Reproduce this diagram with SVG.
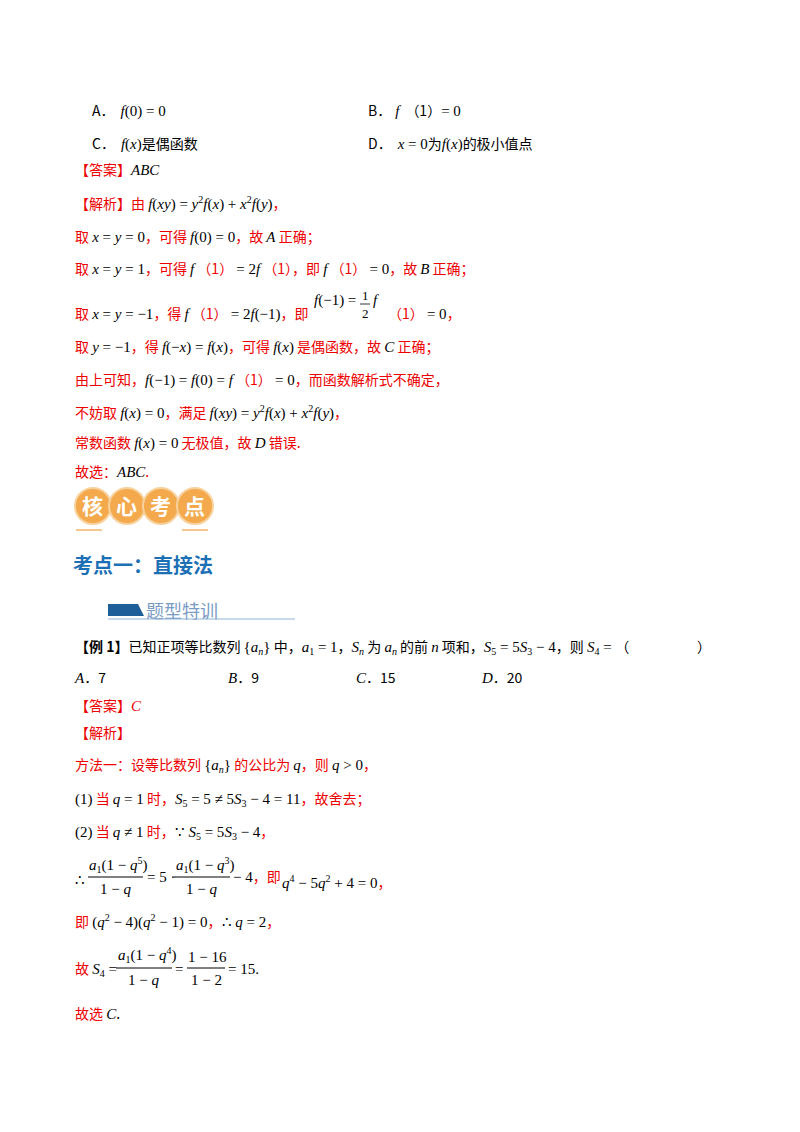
<svg xmlns="http://www.w3.org/2000/svg" width="800" height="1132" viewBox="0 0 800 1132">
<style>
text{font-family:"Noto Sans CJK SC","Liberation Serif",serif;font-size:14px;fill:#000}
.r{fill:#e00}
.m{font-family:"Liberation Serif",serif;font-style:italic;font-size:15px;fill:#000}
.n{font-family:"Liberation Serif",serif;font-size:15px;fill:#000}
.s{font-size:10px}
.k{font-family:"Noto Sans CJK SC",sans-serif;font-weight:bold;font-size:21px;fill:#fff}
.c{fill:#f3a94c;stroke:#f8d29e;stroke-width:2}
.h{font-family:"Noto Sans CJK SC",sans-serif;font-weight:bold;font-size:20px;fill:#1a6fb5}
.t{font-family:"Noto Sans CJK SC",serif;font-size:18px;fill:#7a9cc4}
</style>
<rect width="800" height="1132" fill="#fff"/>
<text x="92" y="116">A．<tspan class="m" dx="6">f</tspan><tspan class="n">(0) = 0</tspan></text>
<text x="368" y="116">B．<tspan class="m" dx="4">f</tspan><tspan dx="6">（1）</tspan><tspan class="n">= 0</tspan></text>
<text x="92" y="149">C．<tspan class="m" dx="6">f</tspan><tspan class="n">(</tspan><tspan class="m">x</tspan><tspan class="n">)</tspan>是偶函数</text>
<text x="368" y="149">D．<tspan class="m" dx="6">x</tspan><tspan class="n"> = 0</tspan>为<tspan class="m">f</tspan><tspan class="n">(</tspan><tspan class="m">x</tspan><tspan class="n">)</tspan>的极小值点</text>
<text x="75" y="175" class="r">【答案】<tspan class="m">ABC</tspan></text>
<text x="75" y="209" class="r">【解析】由 <tspan class="m">f</tspan><tspan class="n">(</tspan><tspan class="m">xy</tspan><tspan class="n">) = </tspan><tspan class="m">y</tspan><tspan class="n s" dy="-6">2</tspan><tspan class="m" dy="6">f</tspan><tspan class="n">(</tspan><tspan class="m">x</tspan><tspan class="n">) + </tspan><tspan class="m">x</tspan><tspan class="n s" dy="-6">2</tspan><tspan class="m" dy="6">f</tspan><tspan class="n">(</tspan><tspan class="m">y</tspan><tspan class="n">)</tspan>，</text>
<text x="75" y="242" class="r">取 <tspan class="m">x</tspan><tspan class="n"> = </tspan><tspan class="m">y</tspan><tspan class="n"> = 0</tspan>，可得 <tspan class="m">f</tspan><tspan class="n">(0) = 0</tspan>，故 <tspan class="m">A</tspan> 正确；</text>
<text x="75" y="274" class="r">取 <tspan class="m">x</tspan><tspan class="n"> = </tspan><tspan class="m">y</tspan><tspan class="n"> = 1</tspan>，可得 <tspan class="m">f</tspan> （1） <tspan class="n">= 2</tspan><tspan class="m">f</tspan> （1），即 <tspan class="m">f</tspan> （1） <tspan class="n">= 0</tspan>，故 <tspan class="m">B</tspan> 正确；</text>
<text x="75" y="319" class="r">取 <tspan class="m">x</tspan><tspan class="n"> = </tspan><tspan class="m">y</tspan><tspan class="n"> = −1</tspan>，得 <tspan class="m">f</tspan> （1） <tspan class="n">= 2</tspan><tspan class="m">f</tspan><tspan class="n">(−1)</tspan>，即</text>
<text x="314" y="305"><tspan class="m">f</tspan><tspan class="n">(−1) =</tspan></text>
<text x="362" y="300" class="n" style="font-size:13px">1</text><text x="362" y="318" class="n" style="font-size:13px">2</text>
<line x1="360" y1="304" x2="370" y2="304" stroke="#000" stroke-width="0.8"/>
<text x="373" y="305" class="m">f</text>
<text x="388" y="319" class="r">（1） <tspan class="n">= 0</tspan>，</text>
<text x="75" y="352" class="r">取 <tspan class="m">y</tspan><tspan class="n"> = −1</tspan>，得 <tspan class="m">f</tspan><tspan class="n">(−</tspan><tspan class="m">x</tspan><tspan class="n">) = </tspan><tspan class="m">f</tspan><tspan class="n">(</tspan><tspan class="m">x</tspan><tspan class="n">)</tspan>，可得 <tspan class="m">f</tspan><tspan class="n">(</tspan><tspan class="m">x</tspan><tspan class="n">)</tspan> 是偶函数，故 <tspan class="m">C</tspan> 正确；</text>
<text x="75" y="385" class="r">由上可知，<tspan class="m">f</tspan><tspan class="n">(−1) = </tspan><tspan class="m">f</tspan><tspan class="n">(0) = </tspan><tspan class="m">f</tspan> （1） <tspan class="n">= 0</tspan>，而函数解析式不确定，</text>
<text x="75" y="418" class="r">不妨取 <tspan class="m">f</tspan><tspan class="n">(</tspan><tspan class="m">x</tspan><tspan class="n">) = 0</tspan>，满足 <tspan class="m">f</tspan><tspan class="n">(</tspan><tspan class="m">xy</tspan><tspan class="n">) = </tspan><tspan class="m">y</tspan><tspan class="n s" dy="-6">2</tspan><tspan class="m" dy="6">f</tspan><tspan class="n">(</tspan><tspan class="m">x</tspan><tspan class="n">) + </tspan><tspan class="m">x</tspan><tspan class="n s" dy="-6">2</tspan><tspan class="m" dy="6">f</tspan><tspan class="n">(</tspan><tspan class="m">y</tspan><tspan class="n">)</tspan>，</text>
<text x="75" y="448" class="r">常数函数 <tspan class="m">f</tspan><tspan class="n">(</tspan><tspan class="m">x</tspan><tspan class="n">) = 0</tspan> 无极值，故 <tspan class="m">D</tspan> 错误.</text>
<text x="75" y="477" class="r">故选：<tspan class="m">ABC</tspan>.</text>
<g id="badge">
<circle class="c" cx="93" cy="506" r="18"/><circle class="c" cx="127" cy="506" r="18"/><circle class="c" cx="161" cy="506" r="18"/><circle class="c" cx="195" cy="506" r="18"/>
<text class="k" x="82" y="514">核</text><text class="k" x="116" y="514">心</text><text class="k" x="150" y="514">考</text><text class="k" x="184" y="514">点</text>
<line x1="76" y1="530" x2="102" y2="530" stroke="#f3c78e" stroke-width="2"/><line x1="182" y1="530" x2="208" y2="530" stroke="#f3c78e" stroke-width="2"/>
</g>
<text x="73" y="573" class="h">考点一：直接法</text>
<polygon points="108,604 138,604 144,616 108,616" fill="#1f5f99"/>
<text x="146" y="618" class="t">题型特训</text>
<line x1="108" y1="619" x2="295" y2="619" stroke="#8fb3d6" stroke-width="1"/>
<text x="75" y="652"><tspan font-weight="bold">【例 1】</tspan>已知正项等比数列 <tspan class="n">{</tspan><tspan class="m">a</tspan><tspan class="m s" dy="3">n</tspan><tspan class="n" dy="-3">}</tspan> 中，<tspan class="m">a</tspan><tspan class="n s" dy="3">1</tspan><tspan class="n" dy="-3"> = 1</tspan>，<tspan class="m">S</tspan><tspan class="m s" dy="3">n</tspan><tspan dy="-3"> 为 </tspan><tspan class="m">a</tspan><tspan class="m s" dy="3">n</tspan><tspan dy="-3"> 的前 </tspan><tspan class="m">n</tspan> 项和，<tspan class="m">S</tspan><tspan class="n s" dy="3">5</tspan><tspan class="n" dy="-3"> = 5</tspan><tspan class="m">S</tspan><tspan class="n s" dy="3">3</tspan><tspan class="n" dy="-3"> − 4</tspan>，则 <tspan class="m">S</tspan><tspan class="n s" dy="3">4</tspan><tspan class="n" dy="-3"> = </tspan>（</text>
<text x="697" y="652">）</text>
<text x="75" y="683"><tspan class="m">A</tspan>．7</text><text x="228" y="683"><tspan class="m">B</tspan>．9</text><text x="356" y="683"><tspan class="m">C</tspan>．15</text><text x="482" y="683"><tspan class="m">D</tspan>．20</text>
<text x="75" y="711" class="r">【答案】<tspan class="m" style="fill:#e00">C</tspan></text>
<text x="75" y="738" class="r">【解析】</text>
<text x="75" y="770" class="r">方法一：设等比数列 <tspan class="n">{</tspan><tspan class="m">a</tspan><tspan class="m s" dy="3">n</tspan><tspan class="n" dy="-3">}</tspan> 的公比为 <tspan class="m">q</tspan>，则 <tspan class="m">q</tspan><tspan class="n"> &gt; 0</tspan>，</text>
<text x="75" y="804"><tspan class="n">(1)</tspan><tspan class="r"> 当 </tspan><tspan class="m">q</tspan><tspan class="n"> = 1</tspan><tspan class="r"> 时，</tspan><tspan class="m">S</tspan><tspan class="n s" dy="3">5</tspan><tspan class="n" dy="-3"> = 5 ≠ 5</tspan><tspan class="m">S</tspan><tspan class="n s" dy="3">3</tspan><tspan class="n" dy="-3"> − 4 = 11</tspan><tspan class="r">，故舍去；</tspan></text>
<text x="75" y="837"><tspan class="n">(2)</tspan><tspan class="r"> 当 </tspan><tspan class="m">q</tspan><tspan class="n"> ≠ 1</tspan><tspan class="r"> 时，</tspan><tspan class="n">∵ </tspan><tspan class="m">S</tspan><tspan class="n s" dy="3">5</tspan><tspan class="n" dy="-3"> = 5</tspan><tspan class="m">S</tspan><tspan class="n s" dy="3">3</tspan><tspan class="n" dy="-3"> − 4</tspan><tspan class="r">，</tspan></text>
<text x="75" y="885" class="n">∴</text>
<text x="89" y="870"><tspan class="m">a</tspan><tspan class="n s" dy="3">1</tspan><tspan class="n" dy="-3">(1 − </tspan><tspan class="m">q</tspan><tspan class="n s" dy="-6">5</tspan><tspan class="n" dy="6">)</tspan></text>
<line x1="88" y1="877" x2="143" y2="877" stroke="#000"/>
<text x="100" y="894"><tspan class="n">1 − </tspan><tspan class="m">q</tspan></text>
<text x="147" y="882" class="n">= 5 ·</text>
<text x="176" y="870"><tspan class="m">a</tspan><tspan class="n s" dy="3">1</tspan><tspan class="n" dy="-3">(1 − </tspan><tspan class="m">q</tspan><tspan class="n s" dy="-6">3</tspan><tspan class="n" dy="6">)</tspan></text>
<line x1="174" y1="877" x2="230" y2="877" stroke="#000"/>
<text x="186" y="894"><tspan class="n">1 − </tspan><tspan class="m">q</tspan></text>
<text x="233" y="882"><tspan class="n">− 4</tspan><tspan class="r">，即 </tspan></text>
<text x="282" y="888"><tspan class="m">q</tspan><tspan class="n s" dy="-6">4</tspan><tspan class="n" dy="6"> − 5</tspan><tspan class="m">q</tspan><tspan class="n s" dy="-6">2</tspan><tspan class="n" dy="6"> + 4 = 0</tspan><tspan class="r">，</tspan></text>
<text x="75" y="927"><tspan class="r">即 </tspan><tspan class="n">(</tspan><tspan class="m">q</tspan><tspan class="n s" dy="-6">2</tspan><tspan class="n" dy="6"> − 4)(</tspan><tspan class="m">q</tspan><tspan class="n s" dy="-6">2</tspan><tspan class="n" dy="6"> − 1) = 0</tspan><tspan class="r">，</tspan><tspan class="n">∴ </tspan><tspan class="m">q</tspan><tspan class="n"> = 2</tspan><tspan class="r">，</tspan></text>
<text x="75" y="974"><tspan class="r">故 </tspan><tspan class="m">S</tspan><tspan class="n s" dy="3">4</tspan><tspan class="n" dy="-3"> =</tspan></text>
<text x="118" y="960"><tspan class="m">a</tspan><tspan class="n s" dy="3">1</tspan><tspan class="n" dy="-3">(1 − </tspan><tspan class="m">q</tspan><tspan class="n s" dy="-6">4</tspan><tspan class="n" dy="6">)</tspan></text>
<line x1="116" y1="968" x2="172" y2="968" stroke="#000"/>
<text x="128" y="985"><tspan class="n">1 − </tspan><tspan class="m">q</tspan></text>
<text x="175" y="974" class="n">=</text>
<text x="188" y="962" class="n">1 − 16</text>
<line x1="187" y1="968" x2="225" y2="968" stroke="#000"/>
<text x="191" y="985" class="n">1 − 2</text>
<text x="228" y="974" class="n">= 15.</text>
<text x="75" y="1019"><tspan class="r">故选 </tspan><tspan class="m">C</tspan>.</text>
</svg>
